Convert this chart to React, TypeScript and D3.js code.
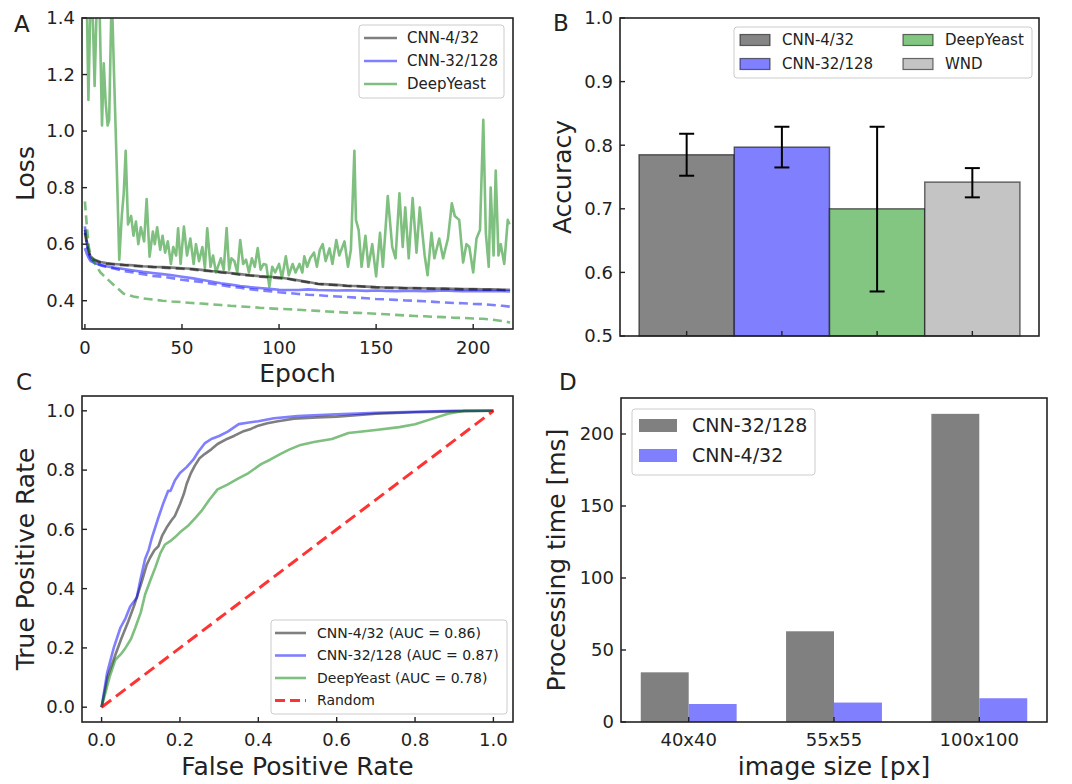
import React from 'react';
import * as d3 from 'd3';

const FONT = '"DejaVu Sans", sans-serif';

// ---------- A: training / validation loss ----------
const lossEpochs = [0, 1, 2, 3, 5, 8, 11, 15, 20, 25, 30, 35, 40, 45, 50, 55, 60, 65, 70, 75, 80, 85, 90, 95, 100,
  105, 110, 115, 120, 125, 130, 135, 140, 145, 150, 155, 160, 165, 170, 175, 180, 185, 190, 195, 200, 205, 210, 215, 219];
const cnn4Val = [0.651, 0.61, 0.575, 0.555, 0.545, 0.537, 0.533, 0.530, 0.527, 0.525, 0.522, 0.520, 0.519, 0.517, 0.515,
  0.513, 0.509, 0.505, 0.502, 0.498, 0.494, 0.49, 0.487, 0.485, 0.482, 0.478, 0.472, 0.466, 0.46, 0.458, 0.456, 0.453,
  0.452, 0.45, 0.448, 0.447, 0.447, 0.445, 0.445, 0.444, 0.443, 0.443, 0.442, 0.441, 0.441, 0.44, 0.44, 0.439, 0.439];
const cnn4Train = [0.64, 0.60, 0.57, 0.553, 0.542, 0.535, 0.531, 0.528, 0.526, 0.523, 0.521, 0.519, 0.517, 0.515, 0.513,
  0.511, 0.507, 0.504, 0.5, 0.497, 0.492, 0.489, 0.485, 0.483, 0.48, 0.477, 0.47, 0.465, 0.459, 0.457, 0.455, 0.452,
  0.451, 0.449, 0.447, 0.446, 0.445, 0.444, 0.444, 0.443, 0.442, 0.442, 0.441, 0.44, 0.44, 0.439, 0.439, 0.438, 0.437];
const cnn32Val = [0.586, 0.565, 0.55, 0.54, 0.533, 0.527, 0.522, 0.517, 0.512, 0.507, 0.502, 0.498, 0.494, 0.49, 0.485,
  0.48, 0.474, 0.468, 0.462, 0.457, 0.452, 0.448, 0.445, 0.442, 0.439, 0.438, 0.438, 0.44, 0.438, 0.437, 0.436, 0.437,
  0.436, 0.435, 0.436, 0.435, 0.434, 0.435, 0.435, 0.434, 0.435, 0.436, 0.435, 0.434, 0.434, 0.434, 0.435, 0.434, 0.433];
const cnn32Train = [0.663, 0.6, 0.565, 0.548, 0.535, 0.525, 0.52, 0.514, 0.505, 0.5, 0.494, 0.488, 0.485, 0.48, 0.474,
  0.47, 0.466, 0.46, 0.455, 0.45, 0.446, 0.441, 0.437, 0.434, 0.43, 0.427, 0.424, 0.421, 0.42, 0.417, 0.415, 0.413,
  0.411, 0.409, 0.406, 0.405, 0.403, 0.401, 0.4, 0.398, 0.396, 0.394, 0.392, 0.391, 0.389, 0.388, 0.385, 0.382, 0.379];
const yeastTrain = [0.751, 0.663, 0.59, 0.56, 0.533, 0.5, 0.48, 0.455, 0.425, 0.415, 0.408, 0.404, 0.4, 0.397, 0.395,
  0.392, 0.39, 0.387, 0.385, 0.382, 0.38, 0.378, 0.375, 0.373, 0.371, 0.37, 0.368, 0.366, 0.364, 0.362, 0.36, 0.358,
  0.357, 0.356, 0.354, 0.352, 0.35, 0.348, 0.346, 0.345, 0.343, 0.342, 0.34, 0.339, 0.337, 0.336, 0.333, 0.328, 0.323];
// DeepYeast validation is noisy, read point by point
const yeastValEpochs = [0, 1, 1.8, 3, 4, 5, 6.3, 7.5, 8.8, 9.7, 10.7, 11.7, 12.5, 13.8, 15, 16.5, 17.7, 19, 20, 21, 22.2,
  23.8, 25, 26.3, 27.5, 28.8, 30.5, 31.8, 33.3, 35, 36, 37.2, 38.8, 40, 41.3, 42.7, 44.3, 45.5, 47, 48, 49.3, 51, 52.6,
  54.3, 56, 57.2, 58.8, 60.5, 61.8, 63, 64.7, 66, 67.5, 68.5, 70, 71.5, 73, 74.3, 75.5, 77, 78.5, 80, 81.5, 83, 84.5,
  86, 87.5, 89, 90.5, 92, 93.4, 95, 96.5, 98, 100, 101.5, 103.5, 105, 107, 108.5, 110.5, 112, 113, 114.5, 116, 118,
  119.5, 121, 122.5, 124, 126, 127.5, 129.5, 131, 133.7, 135.5, 137, 138.8, 139.6, 141, 142.5, 144.5, 146, 148, 150,
  152, 153.5, 156, 158.3, 160, 162, 163.7, 165, 166.8, 168.8, 170.8, 172.5, 175, 176.5, 178.5, 180, 182.5, 184.5, 187,
  189, 190.5, 192.8, 194.8, 196.5, 198, 200, 201.7, 203.5, 205.2, 206.5, 208, 209, 210.5, 211.6, 213, 214.2, 216,
  217.8, 218.7];
const yeastVal = [1.5, 1.45, 1.11, 1.5, 1.42, 1.16, 1.5, 1.45, 1.02, 1.24, 1.1, 1.02, 1.04, 1.5, 1.2, 0.85, 0.545, 0.7,
  0.78, 0.93, 0.67, 0.7, 0.63, 0.68, 0.6, 0.66, 0.61, 0.76, 0.556, 0.645, 0.6, 0.66, 0.58, 0.63, 0.57, 0.61, 0.53, 0.59,
  0.56, 0.656, 0.53, 0.662, 0.56, 0.62, 0.53, 0.6, 0.54, 0.59, 0.515, 0.656, 0.52, 0.56, 0.5, 0.52, 0.55, 0.51, 0.657,
  0.51, 0.55, 0.54, 0.5, 0.615, 0.53, 0.545, 0.5, 0.55, 0.52, 0.586, 0.51, 0.53, 0.527, 0.45, 0.52, 0.5, 0.53, 0.48,
  0.557, 0.49, 0.53, 0.5, 0.53, 0.5, 0.557, 0.52, 0.55, 0.57, 0.52, 0.58, 0.6, 0.54, 0.585, 0.53, 0.615, 0.56, 0.61,
  0.52, 0.58, 0.93, 0.686, 0.65, 0.52, 0.63, 0.52, 0.6, 0.486, 0.64, 0.52, 0.77, 0.59, 0.55, 0.78, 0.59, 0.73, 0.55,
  0.763, 0.57, 0.73, 0.56, 0.49, 0.64, 0.55, 0.62, 0.55, 0.62, 0.745, 0.7, 0.686, 0.535, 0.6, 0.59, 0.5, 0.62, 0.65,
  1.04, 0.64, 0.52, 0.8, 0.56, 0.86, 0.56, 0.6, 0.53, 0.686, 0.67];
const lossTicksX = [0, 50, 100, 150, 200];
const lossTicksY = [0.4, 0.6, 0.8, 1.0, 1.2, 1.4];

// ---------- B: accuracy ----------
const accModels = ['CNN-4/32', 'CNN-32/128', 'DeepYeast', 'WND'];
const accMean = [0.785, 0.797, 0.700, 0.742];
const accLow = [0.752, 0.765, 0.570, 0.718];
const accHigh = [0.818, 0.829, 0.829, 0.764];
const accColors = ['#858585', '#8080ff', '#82c682', '#c4c4c4'];
const accTicksY = [0.5, 0.6, 0.7, 0.8, 0.9, 1.0];

// ---------- C: ROC ----------
const rocBlueFpr = [0, 0.014, 0.031, 0.048, 0.061, 0.073, 0.09, 0.099, 0.111, 0.12, 0.128, 0.145, 0.158, 0.17, 0.176,
  0.187, 0.2, 0.217, 0.234, 0.246, 0.263, 0.28, 0.3, 0.322, 0.35, 0.372, 0.4, 0.44, 0.5, 0.542, 0.6, 0.7, 0.8, 0.9, 1.0];
const rocBlueTpr = [0, 0.115, 0.2, 0.268, 0.3, 0.34, 0.37, 0.43, 0.5, 0.53, 0.57, 0.64, 0.69, 0.73, 0.73, 0.765, 0.79,
  0.81, 0.835, 0.86, 0.89, 0.905, 0.915, 0.93, 0.955, 0.96, 0.965, 0.975, 0.982, 0.985, 0.988, 0.993, 0.997, 1.0, 1.0];
const rocGrayFpr = [0, 0.015, 0.035, 0.05, 0.068, 0.085, 0.103, 0.115, 0.124, 0.135, 0.145, 0.155, 0.166, 0.178, 0.187,
  0.2, 0.21, 0.217, 0.228, 0.238, 0.25, 0.263, 0.28, 0.296, 0.32, 0.339, 0.36, 0.381, 0.4, 0.423, 0.45, 0.491, 0.55, 0.6,
  0.7, 0.8, 0.9, 1.0];
const rocGrayTpr = [0, 0.1, 0.176, 0.23, 0.289, 0.35, 0.425, 0.48, 0.505, 0.53, 0.543, 0.58, 0.606, 0.63, 0.645, 0.685,
  0.72, 0.753, 0.79, 0.815, 0.84, 0.854, 0.87, 0.888, 0.905, 0.916, 0.93, 0.939, 0.95, 0.958, 0.965, 0.973, 0.978, 0.98,
  0.99, 0.995, 0.998, 1.0];
const rocGreenFpr = [0, 0.02, 0.035, 0.05, 0.061, 0.075, 0.086, 0.1, 0.111, 0.125, 0.137, 0.15, 0.162, 0.175, 0.187, 0.2,
  0.22, 0.24, 0.255, 0.275, 0.296, 0.32, 0.347, 0.375, 0.407, 0.43, 0.457, 0.48, 0.508, 0.542, 0.588, 0.63, 0.7, 0.76,
  0.8, 0.841, 0.884, 0.926, 1.0];
const rocGreenTpr = [0, 0.1, 0.16, 0.18, 0.2, 0.23, 0.268, 0.32, 0.38, 0.43, 0.471, 0.52, 0.549, 0.56, 0.573, 0.59, 0.611,
  0.64, 0.662, 0.7, 0.735, 0.75, 0.77, 0.79, 0.82, 0.835, 0.855, 0.87, 0.885, 0.895, 0.905, 0.925, 0.935, 0.945, 0.955,
  0.972, 0.99, 1.0, 1.0];
const rocTicks = [0, 0.2, 0.4, 0.6, 0.8, 1.0];

// ---------- D: processing time ----------
const sizes = ['40x40', '55x55', '100x100'];
const timeCnn32 = [34.5, 63, 214];
const timeCnn4 = [12.5, 13.5, 16.5];
const timeTicksY = [0, 50, 100, 150, 200];

const GRAY = 'rgba(0,0,0,0.5)';
const BLUE = 'rgba(0,0,255,0.5)';
const GREEN = 'rgba(0,128,0,0.5)';

const pair = (xs: number[], ys: number[]) => xs.map((x, i) => [x, ys[i]] as [number, number]).filter(d => d[1] !== undefined);

function Frame({ L, R, T, B }: any) {
  return <rect x={L} y={T} width={R - L} height={B - T} fill="none" stroke="#222" strokeWidth={1.6} />;
}

function YTicks({ scale, ticks, L, fmt }: any) {
  return (
    <g>
      {ticks.map((t: number) => (
        <g key={t}>
          <line x1={L} x2={L + 5} y1={scale(t)} y2={scale(t)} stroke="#222" strokeWidth={1.4} />
          <text x={L - 7} y={scale(t)} dy="0.35em" textAnchor="end" fontSize={18} fontFamily={FONT} fill="#222">{fmt(t)}</text>
        </g>
      ))}
    </g>
  );
}

function XTicks({ scale, ticks, B, fmt, labelY }: any) {
  return (
    <g>
      {ticks.map((t: any, i: number) => (
        <g key={i}>
          <line x1={scale(t)} x2={scale(t)} y1={B} y2={B - 5} stroke="#222" strokeWidth={1.4} />
          {fmt && <text x={scale(t)} y={labelY} textAnchor="middle" fontSize={18} fontFamily={FONT} fill="#222">{fmt(t)}</text>}
        </g>
      ))}
    </g>
  );
}

function Legend({ x, y, w, h }: any) {
  return <rect x={x} y={y} width={w} height={h} rx={3} fill="white" fillOpacity={0.8} stroke="#ccc" strokeWidth={1} />;
}

export default function App() {
  // A
  const A = { L: 82, R: 513, T: 18, B: 329 };
  const xA = d3.scaleLinear().domain([-1.5, 220.5]).range([A.L, A.R]);
  const yA = d3.scaleLinear().domain([0.3, 1.4]).range([A.B, A.T]);
  const lineA = d3.line<[number, number]>().x(d => xA(d[0])).y(d => yA(d[1]));
  const lossSeries = [
    { data: pair(lossEpochs, cnn4Val), color: GRAY, dash: undefined },
    { data: pair(lossEpochs, cnn4Train), color: GRAY, dash: '9,5' },
    { data: pair(lossEpochs, cnn32Val), color: BLUE, dash: undefined },
    { data: pair(lossEpochs, cnn32Train), color: BLUE, dash: '9,5' },
    { data: pair(yeastValEpochs, yeastVal), color: GREEN, dash: undefined },
    { data: pair(lossEpochs, yeastTrain), color: GREEN, dash: '9,5' },
  ];

  // B
  const Bp = { L: 620, R: 1039, T: 18, B: 336 };
  const xB = d3.scaleLinear().domain([-0.7, 3.7]).range([Bp.L, Bp.R]);
  const yB = d3.scaleLinear().domain([0.5, 1.0]).range([Bp.B, Bp.T]);

  // C
  const C = { L: 82, R: 513, T: 396, B: 722 };
  const xC = d3.scaleLinear().domain([-0.05, 1.05]).range([C.L, C.R]);
  const yC = d3.scaleLinear().domain([-0.05, 1.05]).range([C.B, C.T]);
  const lineC = d3.line<[number, number]>().x(d => xC(d[0])).y(d => yC(d[1]));
  const rocSeries = [
    { data: pair(rocGrayFpr, rocGrayTpr), color: GRAY, label: 'CNN-4/32 (AUC = 0.86)' },
    { data: pair(rocBlueFpr, rocBlueTpr), color: BLUE, label: 'CNN-32/128 (AUC = 0.87)' },
    { data: pair(rocGreenFpr, rocGreenTpr), color: GREEN, label: 'DeepYeast (AUC = 0.78)' },
  ];

  // D
  const D = { L: 621, R: 1047, T: 398, B: 722 };
  const xD = d3.scaleLinear().domain([-0.466, 2.466]).range([D.L, D.R]);
  const yD = d3.scaleLinear().domain([0, 225]).range([D.B, D.T]);
  const bw = 0.33;

  return (
    <svg width={1072} height={784} style={{ position: 'fixed', left: 0, top: 0, background: 'white' }}>
      <defs>
        <clipPath id="clipA"><rect x={A.L} y={A.T} width={A.R - A.L} height={A.B - A.T} /></clipPath>
        <clipPath id="clipC"><rect x={C.L} y={C.T} width={C.R - C.L} height={C.B - C.T} /></clipPath>
      </defs>
      <rect x={0} y={0} width={1072} height={784} fill="white" />

      {/* ---- A ---- */}
      <g clipPath="url(#clipA)">
        {lossSeries.map((s, i) => (
          <path key={i} d={lineA(s.data) || ''} fill="none" stroke={s.color} strokeWidth={2.6}
            strokeDasharray={s.dash} strokeLinejoin="round" />
        ))}
      </g>
      <Frame {...A} />
      <YTicks scale={yA} ticks={lossTicksY} L={A.L} fmt={(t: number) => t.toFixed(1)} />
      <XTicks scale={xA} ticks={lossTicksX} B={A.B} fmt={(t: number) => String(t)} labelY={354} />
      <text x={14} y={32} fontSize={23} fontFamily={FONT} fill="#222">A</text>
      <text transform={`translate(34,${(A.T + A.B) / 2}) rotate(-90)`} textAnchor="middle" fontSize={25} fontFamily={FONT} fill="#222">Loss</text>
      <text x={(A.L + A.R) / 2} y={382} textAnchor="middle" fontSize={25} fontFamily={FONT} fill="#222">Epoch</text>
      <Legend x={359} y={25} w={145} h={73} />
      {[['CNN-4/32', GRAY], ['CNN-32/128', BLUE], ['DeepYeast', GREEN]].map(([lab, col], i) => (
        <g key={lab}>
          <line x1={364} x2={397} y1={38 + i * 23} y2={38 + i * 23} stroke={col} strokeWidth={2.6} />
          <text x={407} y={38 + i * 23} dy="0.35em" fontSize={15} fontFamily={FONT} fill="#222">{lab}</text>
        </g>
      ))}

      {/* ---- B ---- */}
      {accModels.map((m, i) => (
        <rect key={m} x={xB(i - 0.5)} y={yB(accMean[i])} width={xB(i + 0.5) - xB(i - 0.5)} height={yB(0.5) - yB(accMean[i])}
          fill={accColors[i]} stroke="rgba(0,0,0,0.55)" strokeWidth={1.5} />
      ))}
      {accModels.map((m, i) => (
        <g key={m} stroke="#000" strokeWidth={2}>
          <line x1={xB(i)} x2={xB(i)} y1={yB(accLow[i])} y2={yB(accHigh[i])} />
          <line x1={xB(i) - 7.5} x2={xB(i) + 7.5} y1={yB(accLow[i])} y2={yB(accLow[i])} />
          <line x1={xB(i) - 7.5} x2={xB(i) + 7.5} y1={yB(accHigh[i])} y2={yB(accHigh[i])} />
        </g>
      ))}
      <Frame {...Bp} />
      <YTicks scale={yB} ticks={accTicksY} L={Bp.L} fmt={(t: number) => t.toFixed(1)} />
      <XTicks scale={xB} ticks={[0, 1, 2, 3]} B={Bp.B} />
      <text x={553} y={31} fontSize={23} fontFamily={FONT} fill="#222">B</text>
      <text transform={`translate(571,${(Bp.T + Bp.B) / 2}) rotate(-90)`} textAnchor="middle" fontSize={25} fontFamily={FONT} fill="#222">Accuracy</text>
      <Legend x={734} y={27} w={298} h={51} />
      {accModels.map((m, i) => {
        const col = Math.floor(i / 2), row = i % 2;
        const px = col === 0 ? 740 : 903;
        const cy = 40 + row * 24;
        return (
          <g key={m}>
            <rect x={px} y={cy - 5.5} width={30} height={11} fill={accColors[i]} stroke="rgba(0,0,0,0.55)" strokeWidth={1.2} />
            <text x={px + 42} y={cy} dy="0.35em" fontSize={15} fontFamily={FONT} fill="#222">{m}</text>
          </g>
        );
      })}

      {/* ---- C ---- */}
      <g clipPath="url(#clipC)">
        {rocSeries.map((s, i) => (
          <path key={i} d={lineC(s.data) || ''} fill="none" stroke={s.color} strokeWidth={2.6} strokeLinejoin="round" />
        ))}
        <path d={lineC([[0, 0], [1, 1]]) || ''} fill="none" stroke="rgba(255,0,0,0.8)" strokeWidth={3} strokeDasharray="12,6" />
      </g>
      <Frame {...C} />
      <YTicks scale={yC} ticks={rocTicks} L={C.L} fmt={(t: number) => t.toFixed(1)} />
      <XTicks scale={xC} ticks={rocTicks} B={C.B} fmt={(t: number) => t.toFixed(1)} labelY={746} />
      <text x={16} y={390} fontSize={23} fontFamily={FONT} fill="#222">C</text>
      <text transform={`translate(34,${(C.T + C.B) / 2}) rotate(-90)`} textAnchor="middle" fontSize={25} fontFamily={FONT} fill="#222">True Positive Rate</text>
      <text x={(C.L + C.R) / 2} y={775} textAnchor="middle" fontSize={25} fontFamily={FONT} fill="#222">False Positive Rate</text>
      <Legend x={271} y={620} w={236} h={94} />
      {[...rocSeries.map(s => [s.label, s.color]), ['Random', 'rgba(255,0,0,0.8)']].map(([lab, col], i) => (
        <g key={lab}>
          <line x1={275} x2={306} y1={633 + i * 22.5} y2={633 + i * 22.5} stroke={col} strokeWidth={i === 3 ? 3 : 2.6}
            strokeDasharray={i === 3 ? '10,5' : undefined} />
          <text x={317} y={633 + i * 22.5} dy="0.35em" fontSize={14} fontFamily={FONT} fill="#222">{lab}</text>
        </g>
      ))}

      {/* ---- D ---- */}
      {sizes.map((s, i) => (
        <g key={s}>
          <rect x={xD(i - bw)} y={yD(timeCnn32[i])} width={xD(bw) - xD(0)} height={yD(0) - yD(timeCnn32[i])} fill="#808080" />
          <rect x={xD(i)} y={yD(timeCnn4[i])} width={xD(bw) - xD(0)} height={yD(0) - yD(timeCnn4[i])} fill="#8080ff" />
        </g>
      ))}
      <Frame {...D} />
      <YTicks scale={yD} ticks={timeTicksY} L={D.L} fmt={(t: number) => String(t)} />
      <XTicks scale={(i: number) => xD(i)} ticks={[0, 1, 2]} B={D.B} fmt={(i: number) => sizes[i]} labelY={746} />
      <text x={559} y={390} fontSize={23} fontFamily={FONT} fill="#222">D</text>
      <text transform={`translate(565,${(D.T + D.B) / 2}) rotate(-90)`} textAnchor="middle" fontSize={25} fontFamily={FONT} fill="#222">Processing time [ms]</text>
      <text x={(D.L + D.R) / 2} y={775} textAnchor="middle" fontSize={25} fontFamily={FONT} fill="#222">image size [px]</text>
      <Legend x={632} y={409} w={183} h={66} />
      {[['CNN-32/128', '#808080'], ['CNN-4/32', '#8080ff']].map(([lab, col], i) => (
        <g key={lab}>
          <rect x={639} y={419 + i * 30} width={38} height={13} fill={col} />
          <text x={692} y={425.5 + i * 30} dy="0.35em" fontSize={19} fontFamily={FONT} fill="#222">{lab}</text>
        </g>
      ))}
    </svg>
  );
}
